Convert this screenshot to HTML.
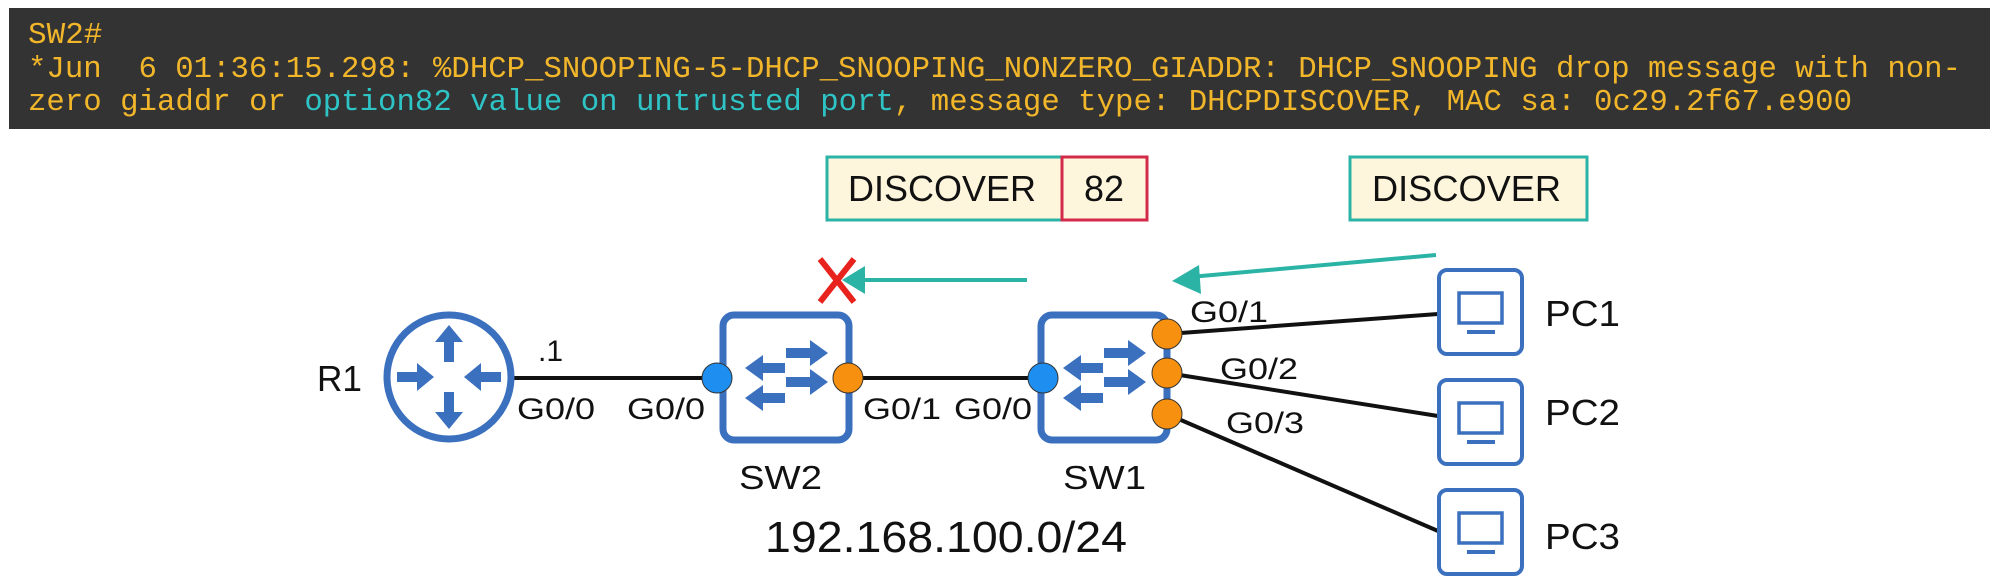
<!DOCTYPE html>
<html><head><meta charset="utf-8"><style>
html,body{margin:0;padding:0;background:#fff;}
svg{display:block;}
.t{font-family:"Liberation Mono",monospace;font-size:31px;fill:#f2b62a;}
.c{fill:#2ec4c6;}
.s{font-family:"Liberation Sans",Arial,sans-serif;fill:#111;}
</style></head><body>
<svg width="2000" height="585" viewBox="0 0 2000 585" xmlns="http://www.w3.org/2000/svg">
<rect x="9" y="8" width="1981" height="121" fill="#333333"/>
<text class="t" x="28" y="43" xml:space="preserve">SW2#</text>
<text class="t" x="28" y="77" xml:space="preserve" textLength="1933" lengthAdjust="spacingAndGlyphs">*Jun  6 01:36:15.298: %DHCP_SNOOPING-5-DHCP_SNOOPING_NONZERO_GIADDR: DHCP_SNOOPING drop message with non-</text>
<text class="t" x="28" y="110" xml:space="preserve" textLength="1824" lengthAdjust="spacingAndGlyphs">zero giaddr or <tspan class="c">option82 value on untrusted port</tspan>, message type: DHCPDISCOVER, MAC sa: 0c29.2f67.e900</text>

<!-- packet boxes -->
<rect x="827" y="157" width="235" height="63" fill="#fdf6dd" stroke="#2bb3a6" stroke-width="3"/>
<rect x="1062" y="157" width="85" height="63" fill="#fdf6dd" stroke="#d42a4a" stroke-width="3"/>
<text class="s" x="848" y="201" font-size="36" textLength="188" lengthAdjust="spacingAndGlyphs">DISCOVER</text>
<text class="s" x="1084" y="201" font-size="36" textLength="40" lengthAdjust="spacingAndGlyphs">82</text>
<rect x="1350" y="157" width="237" height="63" fill="#fdf6dd" stroke="#2bb3a6" stroke-width="3"/>
<text class="s" x="1372" y="201" font-size="36" textLength="189" lengthAdjust="spacingAndGlyphs">DISCOVER</text>

<!-- arrows -->
<line x1="1027" y1="280" x2="860" y2="280" stroke="#2bb3a6" stroke-width="4"/>
<polygon points="842,280 865,266 865,294" fill="#2bb3a6"/>
<line x1="1436" y1="255" x2="1190" y2="277" stroke="#2bb3a6" stroke-width="4"/>
<polygon points="1172,281 1199,265 1201,294" fill="#2bb3a6"/>
<!-- red X -->
<line x1="820" y1="259" x2="854" y2="302" stroke="#e8231e" stroke-width="6"/>
<line x1="854" y1="259" x2="820" y2="302" stroke="#e8231e" stroke-width="6"/>

<!-- links -->
<line x1="514" y1="378" x2="717" y2="378" stroke="#111" stroke-width="4"/>
<line x1="848" y1="378" x2="1043" y2="378" stroke="#111" stroke-width="4"/>
<line x1="1167" y1="334" x2="1438" y2="314" stroke="#111" stroke-width="4"/>
<line x1="1167" y1="373" x2="1438" y2="416" stroke="#111" stroke-width="4"/>
<line x1="1167" y1="414" x2="1438" y2="531" stroke="#111" stroke-width="4"/>

<!-- router -->
<circle cx="449" cy="377" r="62" fill="#fff" stroke="#3b70bf" stroke-width="7"/>
<g fill="#3b70bf">
<rect x="444" y="337" width="10" height="25"/><polygon points="449,325 435,342 463,342"/>
<rect x="444" y="392" width="10" height="25"/><polygon points="449,429 435,412 463,412"/>
<rect x="397" y="372" width="25" height="10"/><polygon points="434,377 417,363 417,391"/>
<rect x="476" y="372" width="25" height="10"/><polygon points="464,377 481,363 481,391"/>
</g>

<!-- switches -->
<g id="sw">
<rect x="723" y="315" width="126" height="125" rx="11" fill="#fff" stroke="#3b70bf" stroke-width="7"/>
<g fill="#3b70bf">
<rect x="786" y="348" width="28" height="10"/><polygon points="828,353 810,340 810,366"/>
<rect x="786" y="377" width="28" height="10"/><polygon points="828,382 810,369 810,395"/>
<rect x="759" y="363" width="26" height="10"/><polygon points="745,368 763,355 763,381"/>
<rect x="759" y="393" width="26" height="10"/><polygon points="745,398 763,385 763,411"/>
</g>
</g>
<use href="#sw" transform="translate(318,0)"/>
<!-- ports -->
<circle cx="717" cy="378" r="15" fill="#1e8ff0" stroke="#333" stroke-width="1"/>
<circle cx="848" cy="378" r="15" fill="#f7900f" stroke="#333" stroke-width="1"/>
<circle cx="1043" cy="378" r="15" fill="#1e8ff0" stroke="#333" stroke-width="1"/>
<circle cx="1167" cy="334" r="15" fill="#f7900f" stroke="#333" stroke-width="1"/>
<circle cx="1167" cy="373" r="15" fill="#f7900f" stroke="#333" stroke-width="1"/>
<circle cx="1167" cy="414" r="15" fill="#f7900f" stroke="#333" stroke-width="1"/>

<!-- PCs -->
<g id="pc">
<rect x="1439" y="270" width="83" height="84" rx="8" fill="#fff" stroke="#3b70bf" stroke-width="4"/>
<rect x="1459" y="293" width="43" height="30" fill="none" stroke="#3b70bf" stroke-width="3.5"/>
<line x1="1467" y1="332" x2="1495" y2="332" stroke="#3b70bf" stroke-width="4"/>
</g>
<use href="#pc" transform="translate(0,110)"/>
<use href="#pc" transform="translate(0,220)"/>

<!-- labels -->
<g class="s" font-size="36">
<text x="317" y="391" textLength="45" lengthAdjust="spacingAndGlyphs">R1</text>
<text x="1545" y="326" textLength="75" lengthAdjust="spacingAndGlyphs">PC1</text>
<text x="1545" y="425" textLength="75" lengthAdjust="spacingAndGlyphs">PC2</text>
<text x="1545" y="549" textLength="75" lengthAdjust="spacingAndGlyphs">PC3</text>
</g>
<g class="s" font-size="33">
<text x="739" y="489" textLength="83" lengthAdjust="spacingAndGlyphs">SW2</text>
<text x="1063" y="489" textLength="83" lengthAdjust="spacingAndGlyphs">SW1</text>
</g>
<g class="s" font-size="30">
<text x="538" y="361">.1</text>
<text x="517" y="419" textLength="78" lengthAdjust="spacingAndGlyphs">G0/0</text>
<text x="627" y="419" textLength="78" lengthAdjust="spacingAndGlyphs">G0/0</text>
<text x="863" y="419" textLength="78" lengthAdjust="spacingAndGlyphs">G0/1</text>
<text x="954" y="419" textLength="78" lengthAdjust="spacingAndGlyphs">G0/0</text>
<text x="1190" y="322" textLength="78" lengthAdjust="spacingAndGlyphs">G0/1</text>
<text x="1220" y="379" textLength="78" lengthAdjust="spacingAndGlyphs">G0/2</text>
<text x="1226" y="433" textLength="78" lengthAdjust="spacingAndGlyphs">G0/3</text>
</g>
<text class="s" x="765" y="552" font-size="44" textLength="362" lengthAdjust="spacingAndGlyphs">192.168.100.0/24</text>
</svg>
</body></html>
